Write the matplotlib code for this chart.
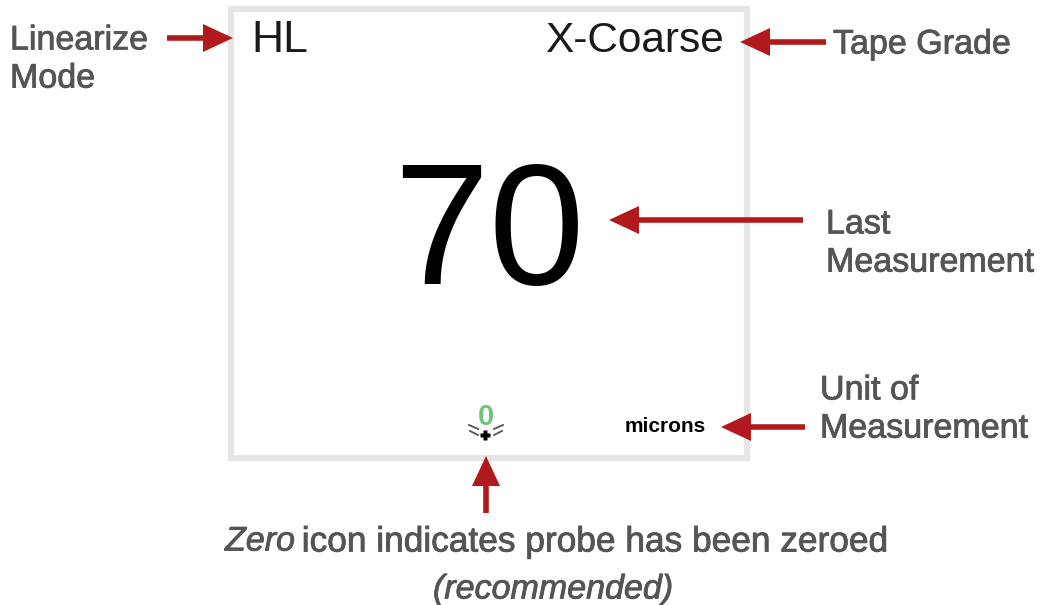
import matplotlib
matplotlib.use('Agg')
import matplotlib.pyplot as plt
from matplotlib.patches import Rectangle, Polygon
import matplotlib.patheffects as pe

plt.rcParams['font.family'] = ['Liberation Sans', 'DejaVu Sans']

W, H = 1042, 605
RED = '#b01a1c'
GREY = '#555555'

# screen text
mode = 'HL'
grade = 'X-Coarse'
reading = '70'
unit = 'microns'
zero_icon = '0'

# callouts
label_linearize = 'Linearize\nMode'
label_grade = 'Tape Grade'
label_last = 'Last\nMeasurement'
label_unit = 'Unit of\nMeasurement'
note_zero = 'Zero'
note_rest = 'icon indicates probe has been zeroed'
note_paren = '(recommended)'


def arrow(ax, tail, tip, head_len=30, head_half=14, lw=4):
    # straight shaft with a solid triangular head, pixel coords
    dx, dy = tip[0] - tail[0], tip[1] - tail[1]
    n = (dx ** 2 + dy ** 2) ** 0.5
    ux, uy = dx / n, dy / n
    bx, by = tip[0] - ux * head_len, tip[1] - uy * head_len
    ax.plot([tail[0], bx], [tail[1], by], color=RED, lw=lw, solid_capstyle='butt')
    ax.add_patch(Polygon([tip, (bx - uy * head_half, by + ux * head_half),
                          (bx + uy * head_half, by - ux * head_half)],
                         closed=True, facecolor=RED, edgecolor='none'))


fig = plt.figure(figsize=(W / 100, H / 100), dpi=100)
ax = fig.add_axes([0, 0, 1, 1])
ax.set_xlim(0, W)
ax.set_ylim(H, 0)
ax.axis('off')

# gauge screen
ax.add_patch(Rectangle((231, 9), 516, 449, facecolor='white', edgecolor='#e6e6e6', linewidth=4.5))

ax.text(251, 41, mode, fontsize=32, color='#1a1a1a', ha='left', va='center')
ax.text(724, 41, grade, fontsize=30.5, color='#1a1a1a', ha='right', va='center')
ax.text(489, 240, reading, fontsize=124, color='black', ha='center', va='center')
ax.text(665, 427, unit, fontsize=15, color='black', ha='center', va='center', fontweight='bold')
ax.text(486, 417, zero_icon, fontsize=21, color='#6cc77c', ha='center', va='center', fontweight='bold')

# zero icon sparkle
ax.plot([485], [435], marker='P', ms=7, color='black', mec='none')
for x0, y0, x1, y1 in [(469, 425, 478, 429), (470, 431, 478, 435),
                       (503, 425, 494, 429), (502, 431, 494, 435)]:
    ax.plot([x0, x1], [y0, y1], color='#555555', lw=1.3)

# callout arrows
arrow(ax, (167, 38), (233, 38))
arrow(ax, (826, 42), (740, 42))
arrow(ax, (803, 220), (609, 220))
arrow(ax, (805, 427), (721, 427))
arrow(ax, (486, 513), (486, 456))

# callout labels
thick = [pe.withStroke(linewidth=0.6, foreground=GREY)]
lab = dict(fontsize=24.5, color=GREY, ha='left', va='center', linespacing=1.3, path_effects=thick)
ax.text(10, 60, label_linearize, **lab)
ax.text(833, 45, label_grade, **lab)
ax.text(826, 244, label_last, **lab)
ax.text(820, 410, label_unit, **lab)

# bottom note
ax.text(225, 542, note_zero, fontsize=24.5, color=GREY, ha='left', va='center', style='italic', path_effects=thick)
ax.text(888, 542, note_rest, fontsize=25.4, color=GREY, ha='right', va='center', path_effects=thick)
ax.text(553, 590, note_paren, fontsize=24.5, color=GREY, ha='center', va='center', style='italic', path_effects=thick)

fig.savefig('out.png', dpi=100)
